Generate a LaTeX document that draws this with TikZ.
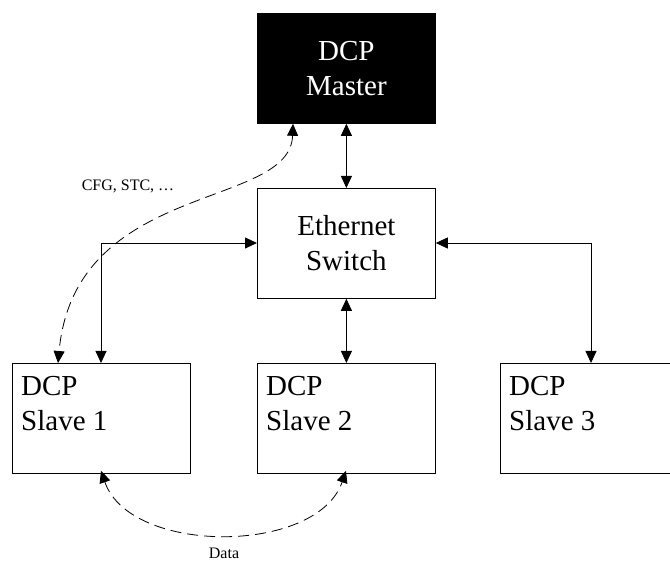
\documentclass[tikz,border=0pt]{standalone}
\usepackage{fontspec}
\setmainfont{Liberation Serif}
\usetikzlibrary{arrows.meta}
\tikzset{
  box/.style={draw, line width=0.8pt, minimum width=178pt, minimum height=110pt, inner sep=0pt, anchor=north west},
  bigtext/.style={font=\fontsize{29}{35}\selectfont, align=center, inner sep=0pt},
  lefttext/.style={font=\fontsize{29}{35}\selectfont, align=left, inner sep=0pt, anchor=north west},
  conn/.style={line width=0.8pt, {Triangle[length=12pt,width=11pt]}-{Triangle[length=12pt,width=11pt]}},
  dconn/.style={conn, dash pattern=on 11pt off 6pt},
  small/.style={font=\fontsize{16}{18}\selectfont, inner sep=0pt}
}
\begin{document}
\begin{tikzpicture}[x=1pt,y=-1pt]
\useasboundingbox (0,0) rectangle (670,561);
\node[box, fill=black] (master) at (257,13) {};
\node[bigtext, text=white] (mastert) at (master.center) {DCP\\Master};
\node[box] (switch) at (257,188) {};
\node[bigtext] (switcht) at (switch.center) {Ethernet\\Switch};
\node[box] (s1) at (12,363) {};
\node[box] (s2) at (257,363) {};
\node[box, minimum width=190pt] (s3) at (500,363) {};
\node[lefttext] (s1t) at (21,376) {DCP\\Slave 1};
\node[lefttext] (s2t) at (266,376) {DCP\\Slave 2};
\node[lefttext] (s3t) at (509,376) {DCP\\Slave 3};
% solid connectors
\draw[conn] (master.south) -- (switch.north);
\draw[conn] (switch.south) -- (s2.north);
\coordinate (lc) at (101,243);
\coordinate (rc) at (591,243);
\draw[conn] (switch.west |- lc) -- (lc) -- (lc |- s1.north);
\draw[conn] (switch.east |- rc) -- (rc) -- (rc |- s1.north);
% dashed connectors
\coordinate (m1) at (293,0);
\coordinate (a1) at (58,0);
\draw[dconn] (m1 |- master.south) .. controls (290,210) and (75,180) .. (a1 |- s1.north);
\node[small] (cfg) at (128,186) {CFG, STC, \dots};
\coordinate (b1) at (101,0);
\coordinate (b2) at (346,0);
\draw[dconn] ([yshift=3pt]b1 |- s1.south) .. controls (130,555) and (317,555) .. ([yshift=3pt]b2 |- s2.south);
\node[small] (data) at (224,553) {Data};
\end{tikzpicture}
\end{document}
